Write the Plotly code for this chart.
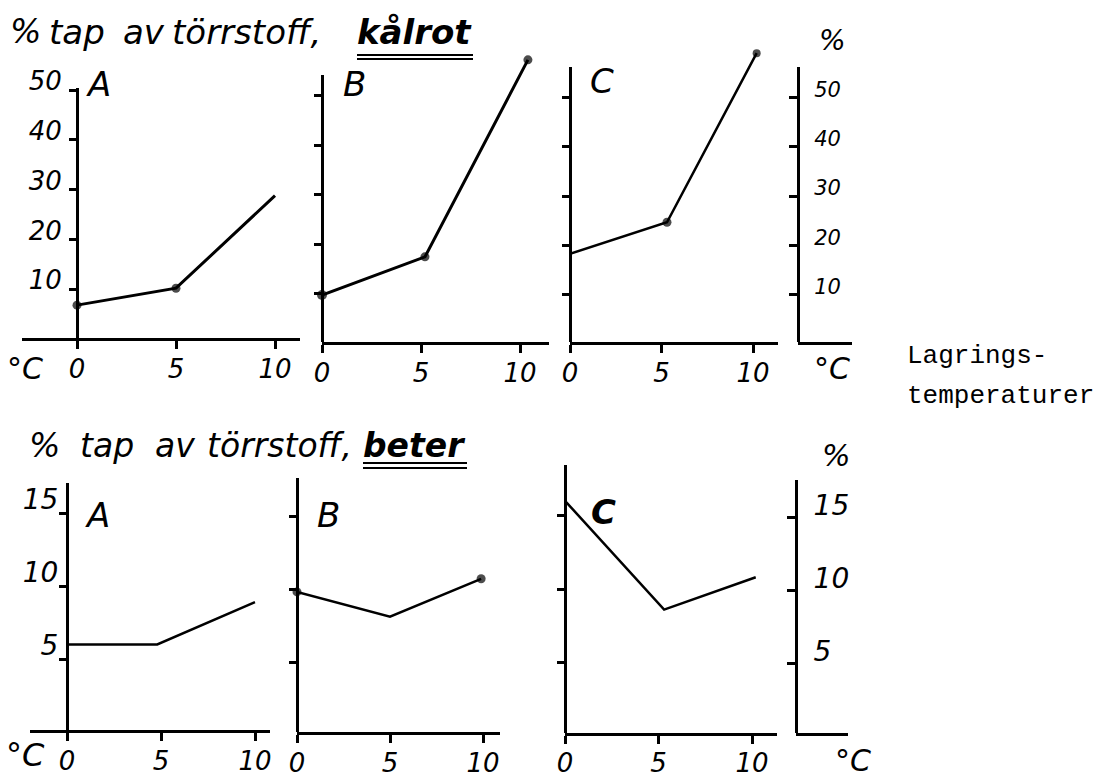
import plotly.graph_objects as go

# ---------------- data ----------------
temp_ticks = [0, 5, 10]
temp_labels = ["0", "5", "10"]

kalrot_ticks = [10, 20, 30, 40, 50]
kalrot_labels = ["10", "20", "30", "40", "50"]
beter_ticks = [5, 10, 15]
beter_labels = ["5", "10", "15"]

kalrot_A_temp = [0, 5, 10]
kalrot_A_loss = [6.8, 10.2, 28.8]
kalrot_B_temp = [0, 5.2, 10.4]
kalrot_B_loss = [9.7, 17.4, 57.2]
kalrot_C_temp = [0, 5.3, 10.2]
kalrot_C_loss = [18.3, 24.7, 59.0]

beter_A_temp = [0, 4.8, 10]
beter_A_loss = [6.0, 6.0, 8.9]
beter_B_temp = [0, 5, 9.9]
beter_B_loss = [9.8, 8.1, 10.7]
beter_C_temp = [0, 5.3, 10.2]
beter_C_loss = [16.0, 8.6, 10.8]

panel_letters = ["A", "B", "C"]
title_words = ["%", "tap", "av", "törrstoff,"]
title_top_crop = "kålrot"
title_bottom_crop = "beter"
unit_pct = "%"
unit_temp = "°C"
side_note = ["Lagrings-", "temperaturer"]

# ---------------- layout helpers ----------------
W, H = 1100, 777
HAND = "DejaVu Sans"
MONO = "Liberation Mono"


def fx(px):
    return px / W


def fy(py):
    return 1 - py / H


# pixel geometry of each panel (layout only)
panels = [
    # top row (kålrot)
    dict(x0=77, xl=22, xr=300, ppx=19.8, y0=339, ybot=338, ytop=88, ppy=4.98, dtop=30,
         yt=kalrot_ticks, yl=kalrot_labels, labels=True, tfs=26, yfs=26, lw=3,
         ysoff=2, yshift=-9, xsoff=-2,
         xs=kalrot_A_temp, ys=kalrot_A_loss, msize=[9, 9, 0]),
    dict(x0=322, xl=322, xr=549, ppx=19.8, y0=343, ybot=342, ytop=75, ppy=4.95, dtop=30,
         yt=kalrot_ticks, yl=kalrot_labels, labels=False, tfs=26, yfs=26, lw=3,
         ysoff=2, yshift=-9, xsoff=-2,
         xs=kalrot_B_temp, ys=kalrot_B_loss, msize=[10, 9, 9]),
    dict(x0=570, xl=570, xr=778, ppx=18.3, y0=344, ybot=342, ytop=67, ppy=4.93, dtop=30,
         yt=kalrot_ticks, yl=kalrot_labels, labels=False, tfs=26, yfs=26, lw=2.5,
         ysoff=2, yshift=-9, xsoff=-2,
         xs=kalrot_C_temp, ys=kalrot_C_loss, msize=[0, 9, 8]),
    # bottom row (beter)
    dict(x0=67, xl=30, xr=270, ppx=18.8, y0=732, ybot=730, ytop=483, ppy=14.6, dtop=440,
         yt=beter_ticks, yl=beter_labels, labels=True, tfs=26, yfs=28, lw=2.5,
         ysoff=-5, yshift=-14, xsoff=-2,
         xs=beter_A_temp, ys=beter_A_loss, msize=[0, 0, 0]),
    dict(x0=297, xl=297, xr=500, ppx=18.6, y0=735, ybot=732, ytop=478, ppy=14.6, dtop=440,
         yt=beter_ticks, yl=beter_labels, labels=False, tfs=26, yfs=28, lw=2.5,
         ysoff=-5, yshift=-14, xsoff=-2,
         xs=beter_B_temp, ys=beter_B_loss, msize=[9, 0, 9]),
    dict(x0=565, xl=565, xr=777, ppx=18.7, y0=736, ybot=733, ytop=465, ppy=14.7, dtop=440,
         yt=beter_ticks, yl=beter_labels, labels=False, tfs=26, yfs=28, lw=2.5,
         ysoff=-5, yshift=-14, xsoff=-3,
         xs=beter_C_temp, ys=beter_C_loss, msize=[0, 0, 0]),
]

right_axes = [
    dict(x0=798, xr=852, y0=344, ybot=342, ytop=67, ppy=4.93,
         yt=kalrot_ticks, yl=kalrot_labels, fs=21, shift=-8),
    dict(x0=796, xr=848, y0=736, ybot=733, ytop=480, ppy=14.6,
         yt=beter_ticks, yl=beter_labels, fs=28, shift=-12),
]

fig = go.Figure()
layout = {}

n = len(panels)
for i, p in enumerate(panels, start=1):
    xa, ya, yd = f"xaxis{i}", f"yaxis{i}", f"yaxis{i + n}"
    xr_, yr_, ydr = f"x{i}", f"y{i}", f"y{i + n}"
    # data trace
    fig.add_trace(go.Scatter(
        x=p["xs"], y=p["ys"], xaxis=xr_, yaxis=yr_, mode="lines+markers",
        line=dict(color="black", width=p["lw"]),
        marker=dict(color="black", size=p["msize"], line=dict(width=0)),
        cliponaxis=False, showlegend=False, hoverinfo="x+y"))
    # empty trace to create the decorative y axis subplot
    fig.add_trace(go.Scatter(x=[], y=[], xaxis=xr_, yaxis=ydr, showlegend=False))

    layout[xa] = dict(
        domain=[fx(p["xl"]), fx(p["xr"])],
        range=[(p["xl"] - p["x0"]) / p["ppx"], (p["xr"] - p["x0"]) / p["ppx"]],
        anchor=yr_, showline=True, linecolor="black", linewidth=3,
        ticks="outside", ticklen=8, tickwidth=2.5, tickcolor="black",
        tickvals=temp_ticks, ticktext=temp_labels,
        tickfont=dict(family=HAND, size=p["tfs"], color="black", style="italic"),
        ticklabelstandoff=p["xsoff"], automargin=False,
        showgrid=False, zeroline=False, fixedrange=True)
    layout[ya] = dict(
        domain=[fy(p["ybot"]), fy(p["dtop"])],
        range=[(p["y0"] - p["ybot"]) / p["ppy"], (p["y0"] - p["dtop"]) / p["ppy"]],
        anchor=xr_, visible=False, showgrid=False, zeroline=False,
        automargin=False, fixedrange=True)
    layout[yd] = dict(
        domain=[fy(p["ybot"]), fy(p["ytop"])],
        range=[(p["y0"] - p["ybot"]) / p["ppy"], (p["y0"] - p["ytop"]) / p["ppy"]],
        anchor="free", position=fx(p["x0"]),
        showline=True, linecolor="black", linewidth=3,
        ticks="outside", ticklen=7, tickwidth=2.5, tickcolor="black",
        tickvals=p["yt"], ticktext=p["yl"], showticklabels=p["labels"],
        tickfont=dict(family=HAND, size=p["yfs"], color="black", style="italic"),
        ticklabelstandoff=p["ysoff"], ticklabelshift=p["yshift"], automargin=False,
        showgrid=False, zeroline=False, fixedrange=True)

k = 2 * n
for j, r in enumerate(right_axes, start=1):
    idx = k + j
    xa, ya = f"xaxis{idx}", f"yaxis{idx}"
    fig.add_trace(go.Scatter(x=[], y=[], xaxis=f"x{idx}", yaxis=f"y{idx}", showlegend=False))
    layout[xa] = dict(
        domain=[fx(r["x0"]), fx(r["xr"])], range=[0, 1], anchor=f"y{idx}",
        showline=True, linecolor="black", linewidth=3, ticks="",
        showticklabels=False, showgrid=False, zeroline=False,
        automargin=False, fixedrange=True)
    layout[ya] = dict(
        domain=[fy(r["ybot"]), fy(r["ytop"])],
        range=[(r["y0"] - r["ybot"]) / r["ppy"], (r["y0"] - r["ytop"]) / r["ppy"]],
        anchor="free", position=fx(r["x0"]), side="right",
        showline=True, linecolor="black", linewidth=3,
        ticks="inside", ticklen=8, tickwidth=2.5, tickcolor="black",
        tickvals=r["yt"], ticktext=r["yl"],
        tickfont=dict(family=HAND, size=r["fs"], color="black", style="italic"),
        ticklabelstandoff=10, ticklabelshift=r["shift"], automargin=False,
        showgrid=False, zeroline=False, fixedrange=True)


def hand(size, bold=False):
    return dict(family=HAND, size=size, color="black", style="italic",
                weight="bold" if bold else "normal")


ann = []


def add_text(text, px, py, font, xanchor="center", yanchor="middle"):
    ann.append(dict(text=text, x=fx(px), y=fy(py), xref="paper", yref="paper",
                    xanchor=xanchor, yanchor=yanchor, showarrow=False, font=font))


# titles (word by word, spaced like the hand lettering)
top_sizes = [33, 34, 34, 34]
for word, px, sz in zip(title_words, [8, 47, 121, 170], top_sizes):
    add_text(word, px, 32, hand(sz), xanchor="left")
add_text(title_top_crop, 355, 32, hand(34, True), xanchor="left")
bottom_sizes = [33, 33, 33, 33]
for word, px, sz in zip(title_words, [27, 78, 153, 205], bottom_sizes):
    add_text(word, px, 445, hand(sz), xanchor="left")
add_text(title_bottom_crop, 361, 445, hand(33, True), xanchor="left")

# panel letters
for letter, (px, py) in zip(panel_letters, [(98, 84), (354, 84), (602, 81)]):
    add_text(letter, px, py, hand(34))
for letter, (px, py) in zip(panel_letters, [(97, 515), (328, 515), (603, 512)]):
    add_text(letter, px, py, hand(34, letter == "C"))

# units
add_text(unit_pct, 832, 40, hand(28))
add_text(unit_pct, 836, 455, hand(30))
add_text(unit_temp, 25, 368, hand(30))
add_text(unit_temp, 832, 368, hand(30))
add_text(unit_temp, 25, 755, hand(32))
add_text(unit_temp, 853, 760, hand(30))

# typed note
add_text(side_note[0], 905, 356, dict(family=MONO, size=26, color="black"), xanchor="left")
add_text(side_note[1], 905, 396, dict(family=MONO, size=26, color="black"), xanchor="left")

# double underlines
shapes = []
for (xa_, xb_, ys_) in [(357, 473, (55, 59)), (363, 467, (463, 468))]:
    for yy in ys_:
        shapes.append(dict(type="line", xref="paper", yref="paper",
                           x0=fx(xa_), x1=fx(xb_), y0=fy(yy), y1=fy(yy),
                           line=dict(color="black", width=2)))

fig.update_layout(
    template="none",
    width=W, height=H, margin=dict(l=0, r=0, t=0, b=0, pad=0, autoexpand=False),
    paper_bgcolor="white", plot_bgcolor="rgba(0,0,0,0)",
    showlegend=False, annotations=ann, shapes=shapes, **layout)

fig.write_html(
    "out.html",
    config={"displayModeBar": False},
    post_script="document.body.style.margin='0px';document.body.style.overflow='hidden';")
